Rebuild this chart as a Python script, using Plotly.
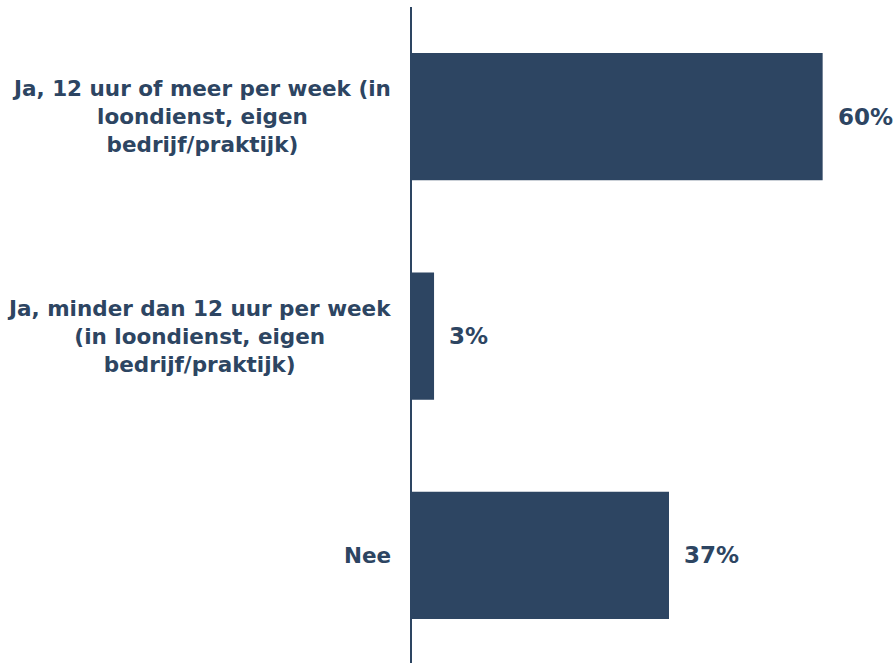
import plotly.graph_objects as go

categories = [
    "Ja, 12 uur of meer per week (in<br>loondienst, eigen<br>bedrijf/praktijk)",
    "Ja, minder dan 12 uur per week<br>(in loondienst, eigen<br>bedrijf/praktijk)",
    "Nee",
]
values = [59.6, 3.2, 37.3]
value_labels = [f"{v:.0f}%" for v in values]

NAVY = "#2D4562"
FONT = "DejaVu Sans"

fig = go.Figure()
fig.add_trace(go.Bar(
    x=values, y=categories, orientation="h",
    marker=dict(color=NAVY, line=dict(width=0)),
    width=0.58, hoverinfo="skip",
))

for c, v, t in zip(categories, values, value_labels):
    fig.add_annotation(x=0, y=c, xref="x", yref="y", text=c,
                       showarrow=False, xanchor="right", yanchor="middle",
                       xshift=-19, align="center",
                       font=dict(family=FONT, size=21.5, color=NAVY, weight="bold"))
    fig.add_annotation(x=v, y=c, xref="x", yref="y", text=t,
                       showarrow=False, xanchor="left", yanchor="middle",
                       xshift=13, align="left",
                       font=dict(family=FONT, size=23, color=NAVY, weight="bold"))

fig.update_layout(
    width=895, height=663,
    margin=dict(l=412, r=0, t=7, b=0),
    paper_bgcolor="white", plot_bgcolor="white",
    showlegend=False,
    xaxis=dict(range=[0, 70.1], visible=False, fixedrange=True),
    yaxis=dict(type="category", categoryarray=categories,
               range=[2.49, -0.5], showticklabels=False, ticks="",
               showgrid=False, zeroline=False, fixedrange=True,
               showline=True, linecolor=NAVY, linewidth=1.5),
)

fig.write_html("out.html", config={"displayModeBar": False},
               post_script="document.body.style.margin='0';document.body.style.overflow='hidden';")
